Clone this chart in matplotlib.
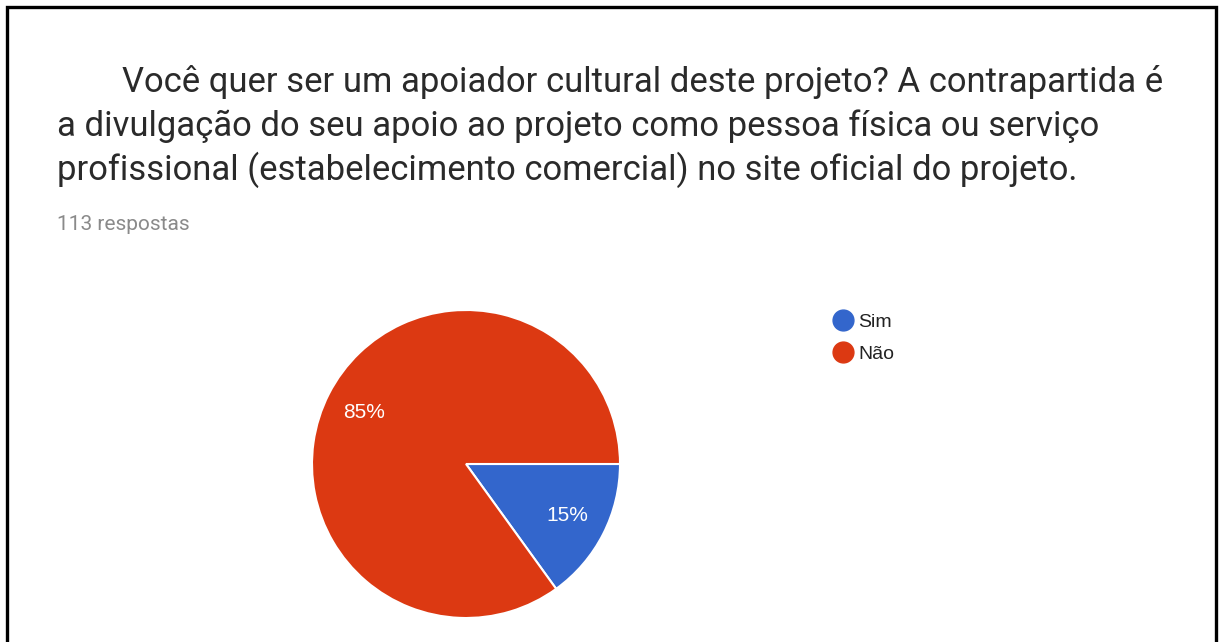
import matplotlib
matplotlib.use("Agg")
import matplotlib.pyplot as plt
from matplotlib.lines import Line2D

# Survey data
categories = ["Sim", "Não"]
responses = [17, 96]
colors = ["#3366CC", "#DC3912"]
total_label = "113 respostas"
question_lines = [
    "Você quer ser um apoiador cultural deste projeto? A contrapartida é",
    "a divulgação do seu apoio ao projeto como pessoa física ou serviço",
    "profissional (estabelecimento comercial) no site oficial do projeto.",
]

W, H = 1219, 642
fig = plt.figure(figsize=(W / 100, H / 100), dpi=100)
fig.patch.set_facecolor("white")

def fx(px):
    return px / W

def fy(py):
    return 1 - py / H

# Frame lines (left, top, right)
fig.add_artist(Line2D([fx(7), fx(7), fx(1216), fx(1216)],
                      [0, fy(7), fy(7), 0], transform=fig.transFigure,
                      color="black", lw=2.4, solid_joinstyle="miter"))

# Question title
title_font = "Roboto"
chart_font = "Liberation Sans"
title_x = [122, 57, 57]
title_base = [92, 136, 180]
for txt, x, y in zip(question_lines, title_x, title_base):
    fig.text(fx(x), fy(y), txt, fontsize=24.9, family=title_font,
             color="#2a2a2a", va="baseline", ha="left")
fig.text(fx(57), fy(230), total_label, fontsize=15, family=title_font,
         color="#8a8a8a", va="baseline", ha="left")

# Pie chart
cx, cy, r = 466, 464, 154
ax = fig.add_axes([fx(cx - r), fy(cy + r), (2 * r) / W, (2 * r) / H])
wedges, texts, autotexts = ax.pie(
    responses, colors=colors, startangle=0, counterclock=False,
    autopct="%1.0f%%", pctdistance=0.74,
    wedgeprops=dict(edgecolor="white", linewidth=1.5),
    textprops=dict(color="white", fontsize=15, family=chart_font),
)
ax.set_xlim(-1, 1)
ax.set_ylim(-1, 1)
ax.set_aspect("equal")
ax.axis("off")

# Legend
handles = [Line2D([0], [0], marker="o", linestyle="none", markersize=15,
                  markerfacecolor=c, markeredgecolor=c) for c in colors]
fig.legend(handles, categories, loc="upper left",
           bbox_to_anchor=(fx(832), fy(313)), frameon=False,
           labelspacing=0.76, handletextpad=0.25,
           handlelength=1.1, borderpad=0, borderaxespad=0,
           prop=dict(family=chart_font, size=14), labelcolor="#222222")

fig.savefig("out.png", dpi=100, facecolor="white")
